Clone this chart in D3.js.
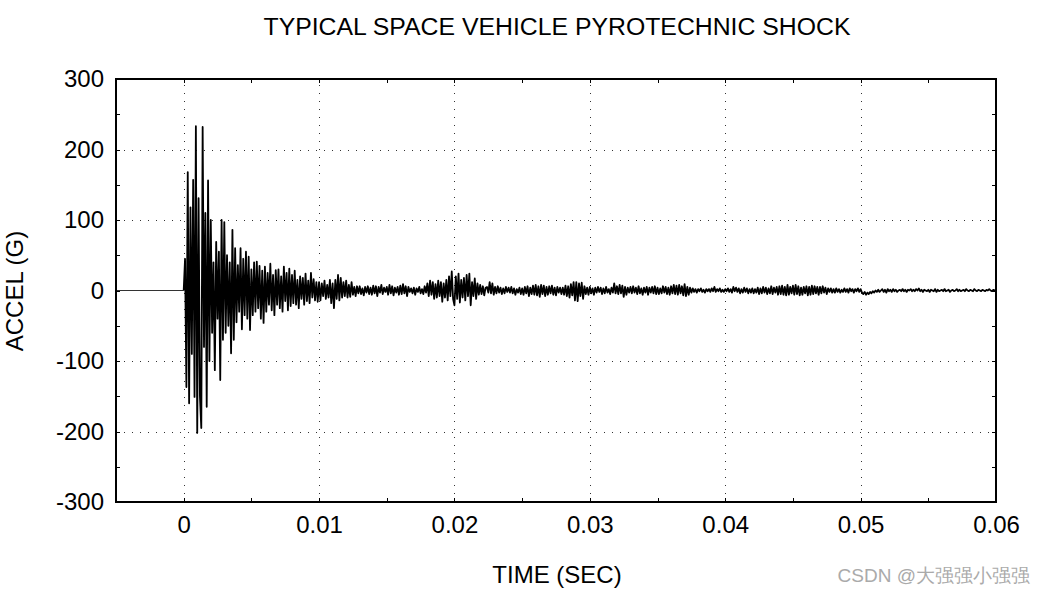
<!DOCTYPE html>
<html>
<head>
<meta charset="utf-8">
<script src="https://cdn.jsdelivr.net/npm/d3@7"></script>
<style>
  html, body { margin: 0; padding: 0; background: #fff; }
  svg { display: block; }
  text { font-family: "Liberation Sans", Arial, sans-serif; fill: #000; }
</style>
</head>
<body>
<svg id="chart" width="1044" height="594"></svg>
<script>
// ---------- data ----------
const title = "TYPICAL SPACE VEHICLE PYROTECHNIC SHOCK";
const xLabel = "TIME (SEC)";
const yLabel = "ACCEL (G)";
const xTicks = [0, 0.01, 0.02, 0.03, 0.04, 0.05, 0.06];
const yTicks = [-300, -200, -100, 0, 100, 200, 300];
const xDomain = [-0.005, 0.06];
const yDomain = [-300, 300];

// pre-trigger (quiet) segment
const preTime = [-0.005];
const preAccel = [0];

const sampleStart = 0;
const sampleStep = 0.0001;
const accel = [
  0, 45, -137, 168, -160, 118, -90, 157, -151, 233,
  -202, 131, -150, -195, 232, -80, 110, -165, 156, -100,
  100, -60, 40, -113, 69, -40, 55, -127, 100, -70,
  97, -60, 50, -50, 40, -89, 86, -70, 60, -45,
  36, -30, 60, -55, 45, -35, 55, -40, 48, -56,
  30, -35, 40, -30, 41, -25, 35, -40, 28, -46,
  34, -30, 25, -20, 38, -28, 22, -35, 29, -20,
  30, -25, 20, -30, 34, -15, 25, -28, 31, -22,
  22, -18, 28, -20, 15, -25, 20, -12, 18, -20,
  24, -15, 14, -18, 25, -10, 16, -14, 12, -16,
  12, -14, 10, -8, 14, -12, 8, -10, 15, -18,
  10, -25, 15, -12, 22, -14, 18, -10, 12, -8,
  14, -10, 8, -9, 12, -6, 5, -8, 6, -4,
  6, -5, 3, -7, 5, -3, 6, -5, 4, -6,
  7, -4, 6, -8, 5, -3, 8, -5, 4, -2,
  5, -6, 8, -4, 6, -7, 4, -3, 5, -6,
  7, -5, 9, -4, 6, -8, 5, -2, 3, -4,
  4, -6, 3, -2, 5, -4, 2, -5, 6, -3,
  10, -8, 14, -6, 12, -12, 9, -10, 14, -8,
  12, -16, 10, -10, 15, -14, 20, -8, 27, -12,
  -21, 20, -12, 24, -17, 15, -10, 18, -14, 22,
  -8, 24, -21, 12, -8, 17, -12, 10, -6, 8,
  -5, 6, -7, 4, 5, -3, 12, -4, 10, -6,
  5, -4, 6, -3, 4, -5, 3, -4, 5, -2,
  4, -3, 5, -4, 3, -6, 2, -3, 4, -5,
  3, -6, 5, -4, 6, -8, 4, -5, 7, -6,
  8, -7, 6, -9, 8, -5, 7, -8, 5, -6,
  6, -4, 7, -6, 4, -7, 5, -3, 4, -5,
  4, -6, 7, -8, 6, -10, 9, -7, 12, -14,
  12, -15, 10, -8, 11, -12, 6, -5, 4, -6,
  5, -4, 3, -6, 4, -3, 5, -2, 4, -5,
  3, -4, 5, -3, 2, -5, 4, -3, 10, -4,
  6, -5, 8, -4, 7, -9, 5, -6, 4, -3,
  5, -4, 6, -3, 4, -5, 6, -4, 3, -6,
  4, -3, 5, -6, 4, -3, 5, -4, 6, -5,
  4, -5, 3, -4, 6, -3, 5, -5, 4, -6,
  6, -4, 8, -5, 7, -6, 8, -4, 6, -7,
  9, -8, 5, -6, 4, -3, 3, -2, 2, -3,
  2, -1, 3, -2, 1, -3, 2, -1, 2, -2,
  3, -1, 5, -2, 2, -1, 3, -2, 1, -2,
  2, -1, 3, -2, 2, -3, 5, -1, 4, -2,
  3, -4, 2, -3, 4, -2, 3, -4, 2, -3,
  3, -4, 2, -3, 4, -5, 3, -4, 5, -3,
  4, -5, 3, -4, 6, -5, 4, -3, 5, -6,
  6, -5, 7, -6, 5, -7, 8, -6, 5, -4,
  7, -6, 8, -5, 6, -7, 4, -6, 5, -4,
  6, -7, 5, -6, 7, -5, 6, -4, 5, -6,
  5, -4, 6, -3, 4, -5, 3, -2, 3, -3,
  2, -3, 3, -2, 2, -3, 1, -2, 3, -2,
  2, -3, 3, -1, 2, -3, 2, -1, 3, -2,
  2, -3, -5, -2, -6, -3, -5, -2, -4, -1,
  -3, 0, -2, 1, -2, 0, 2, -2, 1, -3,
  2, -1, 1, -2, 2, -1, 1, -2, 0, 1,
  -1, 2, -1, 1, -2, 1, 0, 2, -1, 1,
  -1, 2, 0, 3, -1, 1, -2, 1, 0, -1,
  1, -2, 1, 0, -1, 2, -2, 1, -1, 0,
  1, -1, 2, -1, 0, 1, -2, 0, 1, -1,
  0, 2, -1, 1, -1, 0, 1, -1, 2, 0,
  -1, 1, 0, -1, 2, 0, -1, 1, 0, -1,
  1, 0, -1, 1, 0, 2, 0, -1, 1, 0,
  0
];

// ---------- build points ----------
const prePoints = preTime.map((t, i) => ({ t, v: preAccel[i] }))
  .concat([{ t: sampleStart, v: accel[0] }]);
const points = accel.map((v, i) => ({ t: sampleStart + i * sampleStep, v }));

// ---------- layout ----------
const svg = d3.select("#chart");
const margin = { left: 116, right: 48, top: 79, bottom: 92 };
const W = 1044, H = 594;
const FS = 24;
const x = d3.scaleLinear().domain(xDomain).range([margin.left, W - margin.right]);
const y = d3.scaleLinear().domain(yDomain).range([H - margin.bottom, margin.top]);

// grid (dotted)
const grid = svg.append("g");
grid.selectAll("line.gx").data(xTicks.filter(d => d > xDomain[0] && d < xDomain[1]))
  .join("line").attr("class", "gx")
  .attr("x1", d => Math.round(x(d)) + 0.5).attr("x2", d => Math.round(x(d)) + 0.5)
  .attr("y1", y(yDomain[0])).attr("y2", y(yDomain[1]))
  .attr("stroke", "#333").attr("stroke-width", 1).attr("stroke-dasharray", "1,7");
grid.selectAll("line.gy").data(yTicks.filter(d => d > yDomain[0] && d < yDomain[1] && d !== 0))
  .join("line").attr("class", "gy")
  .attr("x1", x(xDomain[0])).attr("x2", x(xDomain[1]))
  .attr("y1", d => Math.round(y(d)) + 0.5).attr("y2", d => Math.round(y(d)) + 0.5)
  .attr("stroke", "#333").attr("stroke-width", 1).attr("stroke-dasharray", "1,7");

// inward tick marks (major + minor) on all four sides
const xMinor = d3.range(-0.005, 0.0601, 0.005);
const yMinor = d3.range(-300, 301, 50);
const tk = svg.append("g").attr("stroke", "#000").attr("stroke-width", 1);
xMinor.forEach(d => {
  const xx = Math.round(x(d)) + 0.5;
  tk.append("line").attr("x1", xx).attr("x2", xx).attr("y1", y(-300)).attr("y2", y(-300) - 4);
  tk.append("line").attr("x1", xx).attr("x2", xx).attr("y1", y(300)).attr("y2", y(300) + 4);
});
yMinor.forEach(d => {
  const yy = Math.round(y(d)) + 0.5;
  tk.append("line").attr("x1", x(xDomain[0])).attr("x2", x(xDomain[0]) + 4).attr("y1", yy).attr("y2", yy);
  tk.append("line").attr("x1", x(xDomain[1])).attr("x2", x(xDomain[1]) - 4).attr("y1", yy).attr("y2", yy);
});

// data lines
const line = d3.line().x(d => x(d.t)).y(d => y(d.v));
svg.append("path").datum(prePoints)
  .attr("d", line)
  .attr("fill", "none")
  .attr("stroke", "#333")
  .attr("stroke-width", 1.1);
svg.append("path").datum(points)
  .attr("d", line)
  .attr("fill", "none")
  .attr("stroke", "#000")
  .attr("stroke-width", 1.8)
  .attr("stroke-linejoin", "round");

// frame
svg.append("rect")
  .attr("x", x(xDomain[0])).attr("y", y(yDomain[1]))
  .attr("width", x(xDomain[1]) - x(xDomain[0]))
  .attr("height", y(yDomain[0]) - y(yDomain[1]))
  .attr("fill", "none").attr("stroke", "#000").attr("stroke-width", 2);

// axes labels via d3 axes (no tick lines, labels only)
const xAxis = d3.axisBottom(x).tickValues(xTicks)
  .tickFormat(d => d === 0 ? "0" : d3.format(".2~f")(d)).tickSize(0).tickPadding(14);
const gx = svg.append("g").attr("transform", `translate(0,${y(yDomain[0])})`).call(xAxis);
gx.select(".domain").remove();
gx.selectAll("text").attr("font-size", FS).attr("font-family", "Liberation Sans, Arial, sans-serif").attr("fill", "#000");

const yAxis = d3.axisLeft(y).tickValues(yTicks)
  .tickFormat(d => String(d)).tickSize(0).tickPadding(12);
const gy = svg.append("g").attr("transform", `translate(${x(xDomain[0])},0)`).call(yAxis);
gy.select(".domain").remove();
gy.selectAll("text").attr("font-size", FS).attr("font-family", "Liberation Sans, Arial, sans-serif").attr("fill", "#000");

// titles
svg.append("text").attr("x", 557).attr("y", 35).attr("text-anchor", "middle")
  .attr("font-size", 24.8).text(title);
svg.append("text").attr("x", 557).attr("y", 583).attr("text-anchor", "middle")
  .attr("font-size", FS).text(xLabel);
svg.append("text").attr("transform", `translate(23,291) rotate(-90)`).attr("text-anchor", "middle")
  .attr("font-size", FS).text(yLabel);

// watermark
svg.append("text").attr("x", 1030).attr("y", 582).attr("text-anchor", "end")
  .attr("font-size", 19).style("fill", "#aaa")
  .attr("font-family", "Noto Sans CJK SC, sans-serif").text("CSDN @大强强小强强");
</script>
</body>
</html>
